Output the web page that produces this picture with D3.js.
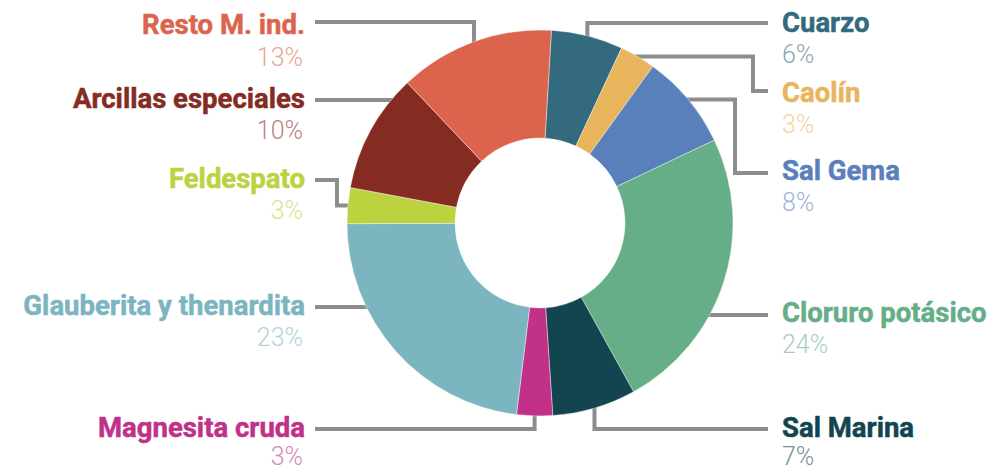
<!DOCTYPE html>
<html>
<head>
<meta charset="utf-8">
<script src="https://cdn.jsdelivr.net/npm/d3@7"></script>
<style>
  html, body { margin: 0; padding: 0; background: #fff; }
  svg { display: block; }
  .name { font-family: Roboto, "Noto Sans", sans-serif; font-weight: 700; font-size: 27.5px; }
  .pct  { font-family: Roboto, "Noto Sans", sans-serif; font-weight: 300; font-size: 25px; }
</style>
</head>
<body>
<svg id="chart" width="990" height="469"></svg>
<script>
// Minerals, in drawing order (clockwise from the top)
const categories = [
  "Cuarzo", "Caolín", "Sal Gema", "Cloruro potásico", "Sal Marina",
  "Magnesita cruda", "Glauberita y thenardita", "Feldespato",
  "Arcillas especiales", "Resto M. ind."
];
// Share of each mineral, in percent
const shares = [6, 3, 8, 24, 7, 3, 23, 3, 10, 13];
const colors = [
  "#336a7d", "#e8b55d", "#5a80bb", "#66ae88", "#124550",
  "#c13188", "#7bb5c0", "#bcd23e", "#852b22", "#dc644c"
];

// Label placement: side, y of the leader line, baselines of name and value,
// and how the leader reaches its slice ("h" straight, "v" elbow down/up, "z" double elbow)
const labelLayout = [
  { side: "right", lineY: 23,  nameY: 32,  pctY: 62.5, route: "v" },
  { side: "right", lineY: 91,  nameY: 102, pctY: 133,  route: "z", elbowX: 753 },
  { side: "right", lineY: 173, nameY: 180, pctY: 211,  route: "z", elbowX: 735 },
  { side: "right", lineY: 315, nameY: 322, pctY: 352.5, route: "h" },
  { side: "right", lineY: 429, nameY: 437, pctY: 465,  route: "v" },
  { side: "left",  lineY: 429, nameY: 437, pctY: 465,  route: "v" },
  { side: "left",  lineY: 307, nameY: 314.5, pctY: 345.5, route: "h" },
  { side: "left",  lineY: 180, nameY: 188, pctY: 218.5, route: "z", elbowX: 337 },
  { side: "left",  lineY: 100, nameY: 108, pctY: 139,  route: "h" },
  { side: "left",  lineY: 22,  nameY: 34,  pctY: 65.5, route: "v" }
];

const data = categories.map((name, i) => ({ name, value: shares[i], color: colors[i], layout: labelLayout[i] }));

const svg = d3.select("#chart");
const cx = 540, cy = 223;
const outerR = 193, innerR = 85;
const startAngle = 3.4 * Math.PI / 180;

const pie = d3.pie().sort(null).value(d => d.value)
  .startAngle(startAngle).endAngle(startAngle + 2 * Math.PI);
const arc = d3.arc().innerRadius(innerR).outerRadius(outerR);
const arcs = pie(data);

const lineColor = "#8d8d8d";
const rightLineX = 768, leftLineX = 315;
const nameRightX = 782, nameLeftX = 305;
const inset = 15;

// Leader lines sit underneath the donut so they stop at its rim
const gLines = svg.append("g").attr("fill", "none").attr("stroke", lineColor)
  .attr("stroke-width", 4);

arcs.forEach(a => {
  const L = a.data.layout;
  const mid = (a.startAngle + a.endAngle) / 2;
  const ex = cx + outerR * Math.sin(mid);   // rim point at the slice's middle angle
  const ey = cy - outerR * Math.cos(mid);
  const x0 = L.side === "right" ? rightLineX : leftLineX;
  const toward = L.side === "right" ? -1 : 1;
  const path = d3.path();
  path.moveTo(x0, L.lineY);
  if (L.route === "h") {
    const dy = L.lineY - cy;
    const rimX = cx - toward * Math.sqrt(outerR * outerR - dy * dy);
    path.lineTo(rimX + toward * inset, L.lineY);
  } else if (L.route === "v") {
    const dir = ey > L.lineY ? 1 : -1;
    path.lineTo(ex, L.lineY);
    path.lineTo(ex, ey + dir * inset);
  } else {
    path.lineTo(L.elbowX, L.lineY);
    path.lineTo(L.elbowX, ey);
    path.lineTo(ex + toward * inset, ey);
  }
  gLines.append("path").attr("d", path.toString());
});

// Donut slices
svg.append("g").attr("transform", `translate(${cx},${cy})`)
  .selectAll("path").data(arcs).join("path")
  .attr("d", arc)
  .attr("fill", d => d.data.color)
  .attr("stroke", "#fff")
  .attr("stroke-width", 0.4);

// Labels: heavy name, light percentage in a paler tint
const gLabels = svg.append("g");
data.forEach(d => {
  const L = d.layout;
  const right = L.side === "right";
  gLabels.append("text").attr("class", "name")
    .attr("x", right ? nameRightX : nameLeftX)
    .attr("y", L.nameY)
    .attr("text-anchor", right ? "start" : "end")
    .attr("fill", d.color)
    .attr("stroke", d.color)
    .attr("stroke-width", 0.5)
    .text(d.name);
  gLabels.append("text").attr("class", "pct")
    .attr("x", right ? nameRightX : nameLeftX - 2)
    .attr("y", L.pctY)
    .attr("text-anchor", right ? "start" : "end")
    .attr("fill", d3.interpolateRgb(d.color, "#ffffff")(0.42))
    .text(d.value + "%");
});
</script>
</body>
</html>
